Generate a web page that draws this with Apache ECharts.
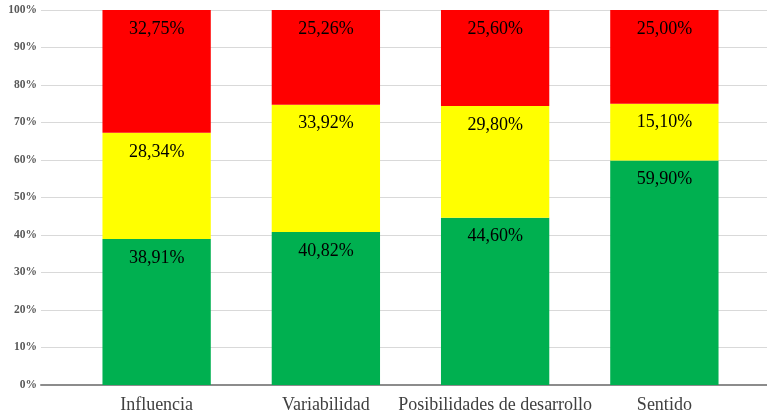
<!DOCTYPE html>
<html>
<head>
<meta charset="utf-8">
<script src="https://cdn.jsdelivr.net/npm/echarts@6/dist/echarts.min.js"></script>
<style>
  html, body { margin: 0; padding: 0; background: #fff; }
  #chart { width: 767px; height: 418px; }
</style>
</head>
<body>
<div id="chart"></div>
<script>
// Categories and stacked shares (percent) for each rating level
const categories = ['Influencia', 'Variabilidad', 'Posibilidades de desarrollo', 'Sentido'];
const greenValues = [38.91, 40.82, 44.60, 59.90];
const yellowValues = [28.34, 33.92, 29.80, 15.10];
const redValues = [32.75, 25.26, 25.60, 25.00];
const yTicks = [0, 10, 20, 30, 40, 50, 60, 70, 80, 90, 100];

const serif = '"Liberation Serif", "Times New Roman", serif';
const fmt = v => v.toFixed(2).replace('.', ',') + '%';

function stackSeries(name, values, color) {
  return {
    name: name,
    type: 'bar',
    stack: 'total',
    xAxisIndex: 1,
    yAxisIndex: 1,
    barWidth: '64%',
    data: values,
    itemStyle: { color: color },
    label: {
      show: true,
      position: 'insideTop',
      distance: 10,
      fontFamily: serif,
      fontSize: 18,
      color: '#000',
      formatter: p => fmt(p.value)
    }
  };
}

const chart = echarts.init(document.getElementById('chart'), null, { renderer: 'canvas' });
chart.setOption({
  animation: false,
  grid: [
    { left: 41, right: 0, top: 10, bottom: 33 },
    { left: 72, right: 18, top: 10, bottom: 33 }
  ],
  xAxis: [
    {
      gridIndex: 0, type: 'value', min: 0, max: 1,
      axisLine: { show: true, lineStyle: { color: '#8c8c8c', width: 2 } },
      axisTick: { show: false }, axisLabel: { show: false }, splitLine: { show: false }
    },
    {
      gridIndex: 1, type: 'category', data: categories,
      axisLine: { show: false }, axisTick: { show: false },
      axisLabel: { interval: 0, fontFamily: serif, fontSize: 18, color: '#404040', margin: 11 }
    }
  ],
  yAxis: [
    {
      gridIndex: 0, type: 'value', min: yTicks[0], max: yTicks[yTicks.length - 1], interval: 10,
      axisLine: { show: false }, axisTick: { show: false },
      axisLabel: { fontFamily: serif, fontSize: 11.5, fontWeight: 'bold', color: '#595959', margin: 4,
                   formatter: v => v + '%' },
      splitLine: { lineStyle: { color: '#d9d9d9', width: 1 } }
    },
    {
      gridIndex: 1, type: 'value', min: yTicks[0], max: yTicks[yTicks.length - 1],
      show: false, splitLine: { show: false }
    }
  ],
  series: [
    stackSeries('Verde', greenValues, '#00B050'),
    stackSeries('Amarillo', yellowValues, '#FFFF00'),
    stackSeries('Rojo', redValues, '#FF0000')
  ]
});
</script>
</body>
</html>
